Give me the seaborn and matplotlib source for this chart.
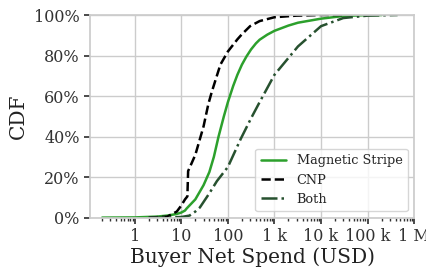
import numpy as np
import pandas as pd
import seaborn as sns
import matplotlib.pyplot as plt
from matplotlib.ticker import EngFormatter, PercentFormatter, LogLocator

# spend (USD) vs CDF
mag_x = [0.2, 1, 3, 5, 8, 10, 12, 13, 15, 20, 30, 40, 50, 63, 82, 100, 130, 160, 200, 250, 314, 400, 480, 700, 1000, 2000, 3200, 10000, 30000, 100000, 200000]
mag_y = [0, 0.001, 0.005, 0.01, 0.018, 0.025, 0.035, 0.045, 0.06, 0.09, 0.16, 0.225, 0.30, 0.40, 0.50, 0.57, 0.65, 0.705, 0.755, 0.795, 0.83, 0.86, 0.878, 0.903, 0.922, 0.948, 0.962, 0.982, 0.995, 1.0, 1.0]

cnp_x = [2, 5, 8, 10, 12, 13.5, 14, 15, 20, 30, 38, 45, 69, 100, 160, 200, 300, 480, 1000, 3000, 10000, 30000]
cnp_y = [0, 0.005, 0.03, 0.06, 0.09, 0.105, 0.23, 0.245, 0.31, 0.45, 0.56, 0.62, 0.755, 0.82, 0.88, 0.905, 0.945, 0.97, 0.989, 0.997, 1.0, 1.0]

both_x = [2, 5, 10, 15, 20, 25, 40, 58, 100, 190, 314, 480, 1000, 3200, 10000, 30000, 100000, 440000]
both_y = [0, 0.001, 0.003, 0.01, 0.03, 0.05, 0.12, 0.18, 0.25, 0.39, 0.49, 0.57, 0.705, 0.845, 0.945, 0.985, 0.997, 1.0]

sns.set_theme(style="whitegrid")
plt.rcParams["font.family"] = ["DejaVu Serif"]

fig, ax = plt.subplots(figsize=(4.27, 2.68), dpi=100)

sns.lineplot(x=mag_x, y=mag_y, ax=ax, color="#2ca02c", lw=1.8, label="Magnetic Stripe")
sns.lineplot(x=cnp_x, y=cnp_y, ax=ax, color="black", lw=1.8, ls="--", label="CNP")
sns.lineplot(x=both_x, y=both_y, ax=ax, color="#27512f", lw=1.8, ls="-.", label="Both")

ax.set_xscale("log")
ax.set_xlim(0.11, 1e6)
ax.set_ylim(0, 1)
ax.xaxis.set_major_locator(LogLocator(base=10, numticks=10))
ax.xaxis.set_major_formatter(EngFormatter(sep=" "))
ax.xaxis.set_minor_locator(LogLocator(base=10, subs=np.arange(2, 10), numticks=20))
ax.yaxis.set_major_formatter(PercentFormatter(1.0, decimals=0))
ax.tick_params(axis="x", which="both", bottom=True, colors="#333333", labelsize=11.5)
ax.tick_params(axis="x", which="major", length=4)
ax.tick_params(axis="x", which="minor", length=2)
ax.tick_params(axis="y", left=True, length=4, colors="#333333", labelsize=11.5)
for s in ax.spines.values():
    s.set_color("#cccccc")

ax.set_xlabel("Buyer Net Spend (USD)", fontsize=14.5, color="#222222", labelpad=2)
ax.set_ylabel("CDF", fontsize=14.5, color="#222222")
ax.legend(loc="lower right", fontsize=9.3)

plt.subplots_adjust(left=0.211, right=0.97, top=0.944, bottom=0.188)
plt.savefig("out.png", dpi=100)
